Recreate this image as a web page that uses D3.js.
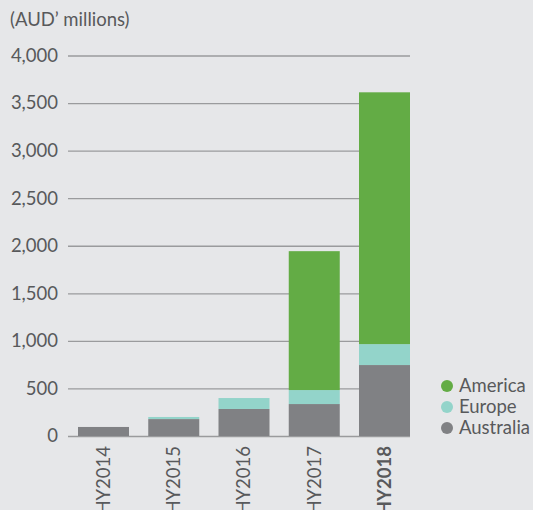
<!DOCTYPE html>
<html>
<head>
<meta charset="utf-8">
<script src="https://cdn.jsdelivr.net/npm/d3@7"></script>
<style>
  html, body { margin: 0; padding: 0; background: #e6e7e9; }
  svg { display: block; font-family: Lato, "Open Sans", sans-serif; }
</style>
</head>
<body>
<svg id="chart" width="533" height="510"></svg>
<script>
// Half-year periods and revenue by region (AUD millions)
const periods = ["HY2014", "HY2015", "HY2016", "HY2017", "HY2018"];
const australia = [95, 178, 284, 336, 746];
const europe = [0, 22, 115, 147, 220];
const america = [0, 0, 0, 1460, 2647];
const yTicks = [0, 500, 1000, 1500, 2000, 2500, 3000, 3500, 4000];

const seriesNames = ["Australia", "Europe", "America"];
const colors = { Australia: "#808184", Europe: "#93d4ca", America: "#63ac45" };
const legendOrder = ["America", "Europe", "Australia"];

const rows = periods.map((p, i) => ({
  period: p, Australia: australia[i], Europe: europe[i], America: america[i]
}));

const svg = d3.select("#chart");
const margin = { left: 68, right: 123, top: 55, bottom: 74 };
const W = 533, H = 510;
const fontSize = 18.5;

const x = d3.scaleBand()
  .domain(periods)
  .range([78, W - margin.right])
  .paddingInner(0.274)
  .paddingOuter(0);

const y = d3.scaleLinear()
  .domain([0, 4000])
  .range([H - margin.bottom, margin.top + 0.5]);

const textColor = "#58595b";

// Unit label
svg.append("text")
  .attr("x", 10).attr("y", 26)
  .attr("fill", textColor)
  .attr("font-size", fontSize)
  .text("(AUD\u2019 millions)");

// Gridlines and y tick labels
const yAxis = d3.axisLeft(y)
  .tickValues(yTicks)
  .tickSize(-(W - margin.right - margin.left))
  .tickPadding(10)
  .tickFormat(d3.format(","));

const gy = svg.append("g")
  .attr("transform", `translate(${margin.left},0)`)
  .call(yAxis);
gy.select(".domain").remove();
gy.selectAll(".tick line").attr("stroke", "#9a9b9d").attr("stroke-width", 1.3);
gy.selectAll(".tick text")
  .attr("fill", textColor)
  .attr("font-size", fontSize)
  .attr("font-family", "Lato, sans-serif");

// Stacked bars
const stack = d3.stack().keys(seriesNames);
const layers = stack(rows);

svg.append("g")
  .selectAll("g")
  .data(layers)
  .join("g")
  .attr("fill", d => colors[d.key])
  .selectAll("rect")
  .data(d => d)
  .join("rect")
  .attr("x", d => x(d.data.period))
  .attr("width", x.bandwidth())
  .attr("y", d => y(d[1]))
  .attr("height", d => y(d[0]) - y(d[1]));

// Period labels, rotated
const gx = svg.append("g")
  .attr("transform", `translate(0,${H - margin.bottom})`)
  .call(d3.axisBottom(x).tickSize(0).tickPadding(0));
gx.select(".domain").remove();
gx.selectAll(".tick text")
  .attr("fill", textColor)
  .attr("font-size", fontSize)
  .attr("font-family", "Lato, sans-serif")
  .attr("font-weight", d => d === "HY2018" ? "bold" : "normal")
  .attr("text-anchor", "end")
  .attr("dy", "0.35em")
  .attr("transform", "translate(0,10) rotate(-90)");

// Legend
const legend = svg.append("g")
  .attr("transform", "translate(447,386)");
const items = legend.selectAll("g")
  .data(legendOrder)
  .join("g")
  .attr("transform", (d, i) => `translate(0,${i * 21})`);
items.append("circle")
  .attr("r", 6)
  .attr("fill", d => colors[d]);
items.append("text")
  .attr("x", 12)
  .attr("dy", "0.35em")
  .attr("fill", textColor)
  .attr("font-size", fontSize)
  .text(d => d);
</script>
</body>
</html>
